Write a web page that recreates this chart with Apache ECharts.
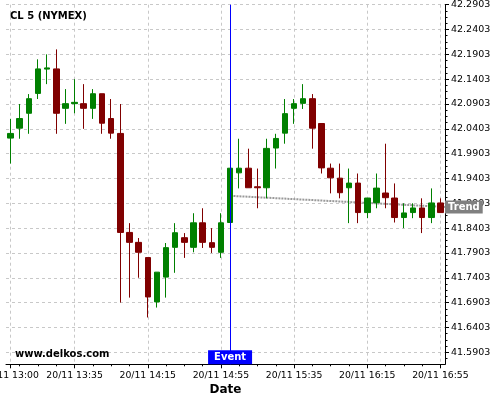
<!DOCTYPE html>
<html><head><meta charset="utf-8">
<script src="https://cdn.jsdelivr.net/npm/echarts@6/dist/echarts.min.js"></script>
<style>html,body{margin:0;padding:0;background:#fff}#c{width:500px;height:400px}</style>
</head><body><div id="c"></div>
<script>
const times = [
  "20/11 13:00","20/11 13:05","20/11 13:10","20/11 13:15","20/11 13:20","20/11 13:25",
  "20/11 13:30","20/11 13:35","20/11 13:40","20/11 13:45","20/11 13:50","20/11 13:55",
  "20/11 14:00","20/11 14:05","20/11 14:10","20/11 14:15","20/11 14:20","20/11 14:25",
  "20/11 14:30","20/11 14:35","20/11 14:40","20/11 14:45","20/11 14:50","20/11 14:55",
  "20/11 15:00","20/11 15:05","20/11 15:10","20/11 15:15","20/11 15:20","20/11 15:25",
  "20/11 15:30","20/11 15:35","20/11 15:40","20/11 15:45","20/11 15:50","20/11 15:55",
  "20/11 16:00","20/11 16:05","20/11 16:10","20/11 16:15","20/11 16:20","20/11 16:25",
  "20/11 16:30","20/11 16:35","20/11 16:40","20/11 16:45","20/11 16:50","20/11 16:55"
];
const opens = [
  42.0216,42.0416,42.0716,42.1116,42.1606,42.1610,42.0816,42.0910,42.0910,42.0816,42.1110,42.0610,
  42.0310,41.8316,41.8116,41.7810,41.6916,41.7416,41.8016,41.8210,41.8016,41.8510,41.8110,41.7916,
  41.8516,41.9516,41.9610,41.9236,41.9216,42.0016,42.0316,42.0816,42.0916,42.1010,42.0510,41.9610,
  41.9409,41.9216,41.9310,41.8716,41.8916,41.9110,41.9009,41.8616,41.8716,41.8809,41.8616,41.8910
];
const closes = [
  42.0310,42.0610,42.1010,42.1610,42.1630,42.0716,42.0910,42.0936,42.0816,42.1110,42.0516,42.0316,
  41.8316,41.8116,41.7916,41.7016,41.7516,41.8010,41.8310,41.8116,41.8510,41.8116,41.8016,41.8510,
  41.9610,41.9610,41.9216,41.9216,42.0009,42.0209,42.0709,42.0910,42.1010,42.0416,41.9616,41.9416,
  41.9116,41.9310,41.8716,41.9009,41.9209,41.9016,41.8616,41.8709,41.8809,41.8616,41.8910,41.8716
];
const lows = [
  41.9703,42.0203,42.0303,42.1003,42.1303,42.0303,42.0503,42.0716,42.0403,42.0603,42.0303,42.0203,
  41.6903,41.7003,41.7403,41.6603,41.6803,41.7003,41.7503,41.7803,41.7916,41.8003,41.7903,41.7803,
  41.8516,41.9203,41.9216,41.8803,41.9003,41.9603,42.0103,42.0503,42.0803,42.0003,41.9503,41.9103,
  41.9003,41.8503,41.8503,41.8603,41.8803,41.8803,41.8516,41.8403,41.8603,41.8303,41.8503,41.8716
];
const highs = [
  42.0603,42.0903,42.1103,42.1803,42.1903,42.2003,42.1203,42.1403,42.1303,42.1203,42.1110,42.1003,
  42.0903,41.8503,41.8203,41.7810,41.7516,41.8103,41.8503,41.8303,41.8703,41.8803,41.8403,41.8703,
  41.9610,42.0203,42.0003,41.9603,42.0203,42.0303,42.1003,42.1003,42.1303,42.1103,42.0510,41.9703,
  41.9703,41.9603,41.9503,41.9009,41.9503,42.0103,41.9303,41.8903,41.8903,41.9003,41.9203,41.9003
];
const xMajorTicks = [0, 7, 15, 23, 31, 39, 47];
const yTickLabels = [41.5903,41.6403,41.6903,41.7403,41.7903,41.8403,41.8903,41.9403,41.9903,42.0403,42.0903,42.1403,42.1903,42.2403,42.2903];
const eventIndex = 24;
const trendX = [24.37, 47.5];
const trendY = [41.905, 41.883];

const FONT = 'DejaVu Sans';
const yMin = 41.566, yMax = 42.2903;
const candleData = opens.map((o, i) => [o, closes[i], lows[i], highs[i]]);
const xMinor = [];
for (let i = 1; i < times.length; i += 2) if (!xMajorTicks.includes(i)) xMinor.push(i);
const yMinor = [];
yTickLabels.forEach(v => { [-0.0125, 0.0125, 0.025, 0.0375].forEach(d => { const t = v + d; if (t > yMin && t < yMax && !(d < 0 && v !== yTickLabels[0])) yMinor.push(t); }); });
const grid = { left: 6, right: 55, top: 4.7, bottom: 35.7, containLabel: false, outerBoundsMode: 'none' };
const dashed = { color: '#c8c8c8', width: 1, type: [3, 3] };

const chart = echarts.init(document.getElementById('c'), null, { renderer: 'canvas' });
chart.setOption({
  animation: false,
  backgroundColor: '#ffffff',
  title: [
    { text: 'CL 5 (NYMEX)', left: 10, top: 10, padding: 0, textStyle: { fontFamily: FONT, fontSize: 10, fontWeight: 'bold', color: '#000', lineHeight: 12 } },
    { text: 'www.delkos.com', left: 15, top: 348, padding: 0, textStyle: { fontFamily: FONT, fontSize: 10, fontWeight: 'bold', color: '#000', lineHeight: 12 } }
  ],
  grid: grid,
  xAxis: [
    { type: 'category', data: times, show: false, boundaryGap: true, position: 'bottom' },
    { type: 'value', min: -0.5, max: 47.5, position: 'bottom',
      axisLine: { show: true, onZero: false, lineStyle: { color: '#000', width: 1 } },
      axisTick: { show: true, customValues: xMajorTicks, length: 4, inside: false, lineStyle: { color: '#000' } },
      axisLabel: { show: true, customValues: xMajorTicks, formatter: v => times[Math.round(v)], color: '#000', fontFamily: FONT, fontSize: 9.3, margin: 7, hideOverlap: false },
      splitLine: { show: true, lineStyle: dashed },
      name: 'Date', nameLocation: 'middle', nameGap: 20, nameMoveOverlap: false,
      nameTextStyle: { fontFamily: FONT, fontSize: 12, fontWeight: 'bold', color: '#000' } },
    { type: 'value', min: -0.5, max: 47.5, position: 'bottom',
      axisLine: { show: false, onZero: false },
      axisTick: { show: true, customValues: xMinor, length: 2, lineStyle: { color: '#000' } },
      axisLabel: { show: false }, splitLine: { show: false } }
  ],
  yAxis: [
    { type: 'value', position: 'right', min: yMin, max: yMax, scale: true,
      axisLine: { show: true, onZero: false, lineStyle: { color: '#000', width: 1 } },
      axisTick: { show: true, customValues: yTickLabels, length: 4, lineStyle: { color: '#000' } },
      axisLabel: { show: true, customValues: yTickLabels, formatter: v => v.toFixed(4), color: '#000', fontFamily: FONT, fontSize: 9.5, margin: 6, hideOverlap: false },
      splitLine: { show: true, lineStyle: dashed } },
    { type: 'value', position: 'right', min: yMin, max: yMax, scale: true,
      axisLine: { show: false, onZero: false },
      axisTick: { show: true, customValues: yMinor, length: 2.5, lineStyle: { color: '#000' } },
      axisLabel: { show: false }, splitLine: { show: false } }
  ],
  series: [
    { type: 'line', name: 'Trend', xAxisIndex: 1, yAxisIndex: 0, z: 1, silent: true,
      data: trendX.map((x, i) => [x, trendY[i]]), symbol: 'none',
      lineStyle: { color: '#999999', width: 2, type: [2, 1] },
      endLabel: { show: true, formatter: 'Trend', distance: 0, backgroundColor: '#808080', color: '#fff',
        fontFamily: FONT, fontSize: 10, fontWeight: 'bold', lineHeight: 11, padding: [1, 3, 1, 3] } },
    { type: 'candlestick', name: 'CL 5', xAxisIndex: 0, yAxisIndex: 0, z: 2, data: candleData,
      barWidth: 6,
      itemStyle: { color: '#008000', color0: '#800000', borderColor: '#008000', borderColor0: '#800000', borderColorDoji: '#008000', borderWidth: 1 } },
    { type: 'line', name: 'Event', xAxisIndex: 1, yAxisIndex: 0, z: 5, data: [], silent: true,
      markLine: { symbol: ['none', 'none'], silent: true, label: { show: false },
        lineStyle: { color: '#0000ff', width: 1, type: 'solid' }, data: [{ xAxis: eventIndex }] },
      markPoint: { symbol: 'rect', symbolSize: [44, 14], symbolOffset: [0, -7], silent: true,
        itemStyle: { color: '#0000ff' },
        label: { show: true, position: 'inside', formatter: 'Event', color: '#fff', fontFamily: FONT, fontSize: 10, fontWeight: 'bold' },
        data: [{ coord: [eventIndex, yMin] }] } }
  ]
});
</script>
</body></html>
